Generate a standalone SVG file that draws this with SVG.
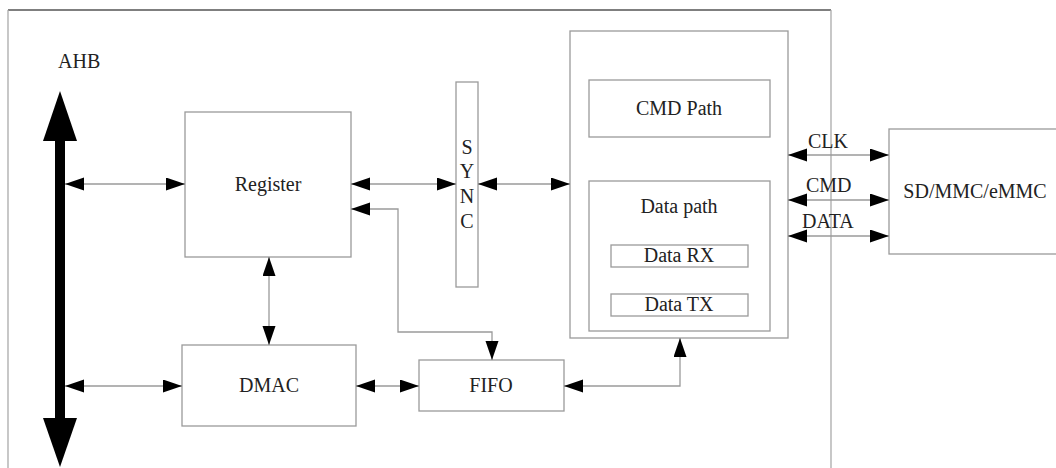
<svg xmlns="http://www.w3.org/2000/svg" width="1056" height="468" viewBox="0 0 1056 468">
<style>
.box{fill:none;stroke:#9a9a9a;stroke-width:1.3}
.ln{fill:none;stroke:#9a9a9a;stroke-width:1.3}
.t{font-family:"Liberation Serif","Times New Roman",serif;font-size:20px;fill:#222}
.c{text-anchor:middle}
</style>
<defs>
<marker id="ah" markerUnits="userSpaceOnUse" markerWidth="20" markerHeight="14" refX="19" refY="6.5" orient="auto-start-reverse" viewBox="0 0 20 14">
<path d="M0,0 L19,6.5 L0,13 z" fill="#000"/>
</marker>
</defs>
<g id="frame">
<line x1="8" y1="10" x2="831" y2="10" stroke="#555" stroke-width="1.3"/>
<line x1="8" y1="10" x2="8" y2="470" stroke="#aaa" stroke-width="1.3"/>
<line x1="831" y1="10" x2="831" y2="470" stroke="#aaa" stroke-width="1.3"/>
</g>
<g id="ahb">
<text class="t" x="58" y="68">AHB</text>
<rect x="55" y="138" width="10" height="283" fill="#000"/>
<polygon points="60,91 43,141 77,141" fill="#000"/>
<polygon points="43,418 77,418 60,467" fill="#000"/>
</g>
<g id="register"><rect class="box" x="185" y="112" width="166" height="145"/><text class="t c" x="268" y="191">Register</text></g>
<g id="dmac"><rect class="box" x="182" y="345" width="174" height="81"/><text class="t c" x="269" y="392">DMAC</text></g>
<g id="sync"><rect class="box" x="456" y="82" width="22" height="205"/>
<text class="t c" x="467" y="154">S</text><text class="t c" x="467" y="178">Y</text><text class="t c" x="467" y="203">N</text><text class="t c" x="467" y="228">C</text></g>
<g id="fifo"><rect class="box" x="419" y="360" width="145" height="51"/><text class="t c" x="491" y="392">FIFO</text></g>
<g id="controller"><rect class="box" x="570" y="31" width="218" height="307"/></g>
<g id="cmdpath"><rect class="box" x="589" y="80" width="181" height="57"/><text class="t c" x="679" y="115">CMD Path</text></g>
<g id="datapath"><rect class="box" x="589" y="181" width="181" height="150"/><text class="t c" x="679" y="213">Data path</text></g>
<g id="datarx"><rect class="box" x="611" y="245" width="137" height="22"/><text class="t c" x="679" y="262">Data RX</text></g>
<g id="datatx"><rect class="box" x="611" y="294" width="137" height="22"/><text class="t c" x="679" y="311">Data TX</text></g>
<g id="sdmmc"><rect class="box" x="889" y="129" width="180" height="125"/><text class="t c" x="975" y="198">SD/MMC/eMMC</text></g>
<g id="connectors">
<line class="ln" x1="65" y1="184" x2="185" y2="184" marker-start="url(#ah)" marker-end="url(#ah)"/>
<line class="ln" x1="65" y1="386" x2="182" y2="386" marker-start="url(#ah)" marker-end="url(#ah)"/>
<line class="ln" x1="269" y1="257" x2="269" y2="345" marker-start="url(#ah)" marker-end="url(#ah)"/>
<line class="ln" x1="351" y1="184" x2="456" y2="184" marker-start="url(#ah)" marker-end="url(#ah)"/>
<line class="ln" x1="478" y1="184" x2="570" y2="184" marker-start="url(#ah)" marker-end="url(#ah)"/>
<path class="ln" d="M351,209 H398 V332 H492 V360" marker-start="url(#ah)" marker-end="url(#ah)"/>
<line class="ln" x1="356" y1="386" x2="419" y2="386" marker-start="url(#ah)" marker-end="url(#ah)"/>
<path class="ln" d="M564,386 H680 V338" marker-start="url(#ah)" marker-end="url(#ah)"/>
<line class="ln" x1="788" y1="155" x2="889" y2="155" marker-start="url(#ah)" marker-end="url(#ah)"/>
<line class="ln" x1="788" y1="200" x2="889" y2="200" marker-start="url(#ah)" marker-end="url(#ah)"/>
<line class="ln" x1="788" y1="236" x2="889" y2="236" marker-start="url(#ah)" marker-end="url(#ah)"/>
<text class="t" x="808" y="148">CLK</text>
<text class="t" x="806" y="192">CMD</text>
<text class="t" x="802" y="228">DATA</text>
</g>
</svg>
